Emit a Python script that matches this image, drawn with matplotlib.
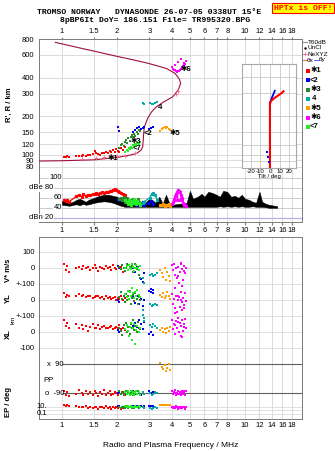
import numpy as np
import matplotlib
matplotlib.use("Agg")
import matplotlib.pyplot as plt
from matplotlib.ticker import NullLocator
from matplotlib.transforms import blended_transform_factory as blend

plt.rcParams["font.family"] = ["Liberation Sans", "DejaVu Sans"]
plt.rcParams["font.size"] = 5.5

W, H = 335, 451


def fx(px):
    return px / W


def fy(py):
    return 1 - py / H


# ---------------- data ----------------
FREQ_TICKS = [1, 1.5, 2, 3, 4, 5, 6, 7, 8, 10, 12, 14, 16, 18]
FREQ_LABELS = ["1", "1.5", "2", "3", "4", "5", "6", "7", "8", "10", "12", "14", "16", "18"]
HEIGHT_TICKS = [80, 90, 100, 120, 150, 200, 300, 400, 600, 800]

# N(h) profile (plasma frequency vs true height)
PROFILE_F = [0.75, 1.0, 1.5, 2.0, 2.35, 2.55, 2.7, 2.76, 2.78, 2.79, 2.82, 2.94, 3.09,
             3.29, 3.58, 4.03, 4.32, 4.45, 4.38, 4.14, 3.73, 3.3, 2.9, 2.45, 2.0, 1.55, 1.2, 0.92]
PROFILE_H = [89, 89.5, 91, 95, 99, 102, 108, 115, 130, 144, 165, 192, 216,
             237, 257, 283, 320, 360, 388, 432, 470, 495, 520, 550, 585, 636, 690, 753]
NEXYZ_F = [1.28, 1.53, 1.70, 1.99, 2.21, 2.50, 4.20, 4.30]
NEXYZ_H = [93, 94, 95, 97, 98, 103, 300, 312]

# trace 1 (red)
T1_F = [1.03, 1.05, 1.07, 1.09, 1.20, 1.24, 1.28, 1.31, 1.35, 1.39, 1.43, 1.47, 1.51, 1.54, 1.58,
        1.62, 1.66, 1.70, 1.74, 1.78, 1.82, 1.86, 1.90, 1.94, 1.98, 2.02, 2.06, 2.10, 2.15, 2.20]
T1_H = [96, 95, 97, 96, 97, 98, 97, 99, 98, 100, 99, 101, 107, 102, 101,
        100, 103, 102, 104, 103, 106, 104, 108, 105, 110, 107, 104, 112, 109, 114]
T1_VS = [30, -10, 15, -25, 5, 10, -5, 15, 0, 10, -10, 5, 20, 0, -15,
         10, 5, -5, 15, 0, 10, -10, 20, 5, -5, 15, 0, 10, -20, 5]
T1_YL = [45, 20, 35, 30, 25, 40, 30, 35, 20, 30, 25, 15, 20, 25, 30,
         15, 20, 10, 25, 15, 20, 10, 15, 20, 5, 15, 10, 25, 5, 15]
T1_XL = [75, 40, 60, 25, 55, 30, 45, 20, 40, 10, 35, 50, 25, 30, 45,
         20, 35, 40, 25, 30, 35, 40, 20, 30, 35, 25, 45, 20, 30, 15]
T1_POL = [-75, -100, -85, -110, -95, -70, -90, -105, -80, -95, -85, -100, -75, -90, -110,
          -85, -95, -70, -100, -90, -80, -105, -95, -85, -90, -100, -75, -95, -85, -105]
T1_EP = [25, 20, 30, 15, 12, 8, 10, 6, 14, 5, 9, 4, 11, 7, 3,
         6, 8, 5, 12, 4, 7, 3, 9, 5, 6, 4, 8, 3, 5, 7]
T1_AMP = [55, 53, 56, 52, 63, 66, 62, 67, 64, 66, 65, 68, 67, 70, 68,
          69, 71, 70, 72, 71, 73, 74, 76, 78, 75, 74, 72, 70, 68, 66]

# trace 2 (blue)
T2_F = [2.03, 2.04, 2.45, 2.52, 2.58, 2.64, 2.70, 2.76, 2.82, 2.98, 3.06, 3.14]
T2_H = [165, 152, 150, 156, 160, 163, 158, 161, 165, 158, 162, 165]
T2_VS = [15, 0, 5, -20, 10, -40, -65, -85, -30, -140, -150, -135]
T2_YL = [5, -10, 20, -15, 30, -25, 10, -35, 0, 60, 70, 45]
T2_XL = [15, 5, 40, 60, 35, 75, 50, 20, 65, -10, 5, -15]
T2_POL = [-90, -85, -80, -95, -75, -90, -100, -85, -95, -80, -90, -85]
T2_EP = [15, 12, 18, 10, 14, 16, 12, 11, 14, 16, 13, 15]
T2_AMP = [57, 55, 52, 48, 45, 50, 47, 52, 46, 49, 53, 48]

# trace 3 (dark green)
T3_F = [2.05, 2.10, 2.13, 2.17, 2.20, 2.24, 2.27, 2.30, 2.34, 2.37, 2.41, 2.45, 2.48,
        2.52, 2.56, 2.60, 2.64, 2.68]
T3_H = [112, 118, 122, 116, 126, 130, 124, 134, 128, 138, 142, 136, 146,
        140, 150, 146, 155, 152]
T3_VS = [10, -5, 20, 0, -15, 5, 25, -10, 10, 0, 15, -20, 5, 30, -5, 10, -40, -60]
T3_YL = [20, 50, 10, 30, -10, 40, 0, 25, 60, -20, 15, 35, -5, 45, 10, -25, 20, 5]
T3_XL = [30, 10, -15, 45, 20, 60, 5, 35, -10, 50, 25, 80, 15, 40, 0, 65, 30, 20]
T3_POL = [-80, -95, -85, -100, -90, -75, -95, -85, -105, -90, -80, -100, -90,
          -85, -95, -75, -90, -100]
T3_EP = [8, 5, 10, 6, 4, 12, 7, 5, 9, 6, 4, 8, 5, 10, 6, 7, 4, 9]
T3_AMP = [58, 60, 55, 62, 52, 57, 60, 54, 50, 56, 53, 58, 55, 51, 54, 57, 52, 50]

# trace 4 (cyan)
T4_F = [2.76, 2.80, 3.02, 3.09, 3.16, 3.24, 3.32]
T4_H = [252, 250, 255, 250, 248, 252, 258]
T4_VS = [-60, -90, -40, -35, -45, -40, -30]
T4_YL = [-60, -110, -25, -35, -30, -20, -30]
T4_XL = [110, 70, 45, 35, 50, 40, 30]
T4_POL = [-85, -95, -90, -100, -95, -85, -90]
T4_EP = [6, 4, 5, 3, 4, 6, 5]
T4_AMP = [50, 52, 60, 68, 70, 66, 55]

# trace 5 (orange)
T5_F = [3.45, 3.52, 3.58, 3.64, 3.70, 3.76, 3.82, 3.88]
T5_H = [152, 158, 160, 163, 161, 165, 158, 155]
T5_VS = [-10, -30, -55, 0, -70, -20, -45, -80]
T5_YL = [35, 20, 45, 15, 30, 50, 25, 10]
T5_XL = [15, 30, 5, 20, -5, 25, 10, 35]
T5_POL = [100, 75, 60, 85, 50, 70, 90, 55]
T5_EP = [30, 28, 32, 30, 29, 31, 30, 28]
T5_AMP = [46, 45, 47, 44, 46, 45, 48, 44]

# trace 6 (magenta)
T6_F = [4.00, 4.05, 4.10, 4.15, 4.20, 4.25, 4.30, 4.35, 4.40, 4.45,
        4.50, 4.55, 4.60, 4.65, 4.70, 4.75, 4.12, 4.28, 4.48, 4.62]
T6_H = [480, 470, 462, 455, 450, 445, 448, 452, 458, 465,
        472, 480, 490, 500, 510, 540, 500, 530, 560, 520]
T6_VS = [20, -10, 30, -40, 0, -60, 10, -90, -20, 25, -110, -5, -70, 15, -30, 5, -120, -50, 35, -15]
T6_YL = [40, -20, 10, -50, 30, -70, 0, 20, -40, 50, -10, -60, 15, -30, 45, -5, -80, 25, 5, -45]
T6_XL = [80, 20, 50, -10, 70, 30, 90, 0, 60, 40, -30, 75, 10, 55, 85, 25, 45, 65, -20, 35]
T6_POL = [-80, -95, -85, -70, -100, -90, -75, -95, -85, -105,
          -90, -80, -95, -85, -100, -75, -90, -95, -85, -80]
T6_EP = [8, 5, 10, 4, 12, 6, 3, 9, 5, 7, 4, 11, 6, 8, 3, 10, 5, 7, 4, 9]
T6_AMP = [48, 52, 58, 63, 68, 72, 75, 74, 72, 66, 60, 55, 50, 47, 45, 44, 55, 55, 55, 45]

# trace 7 (light green)
T7_F = [2.22, 2.26, 2.29, 2.32, 2.35, 2.38, 2.41, 2.44, 2.47, 2.50, 2.54, 2.58, 2.62, 2.66]
T7_H = [104, 108, 106, 112, 110, 115, 113, 118, 116, 121, 119, 124, 122, 126]
T7_VS = [0, 15, -10, 20, 5, -5, 25, 10, -15, 0, 20, 5, -10, 15]
T7_YL = [40, 20, 60, 10, 50, 30, 75, 45, 15, 55, 25, 65, 35, 20]
T7_XL = [20, 45, 10, -20, 35, 60, -45, 25, 50, -75, 15, 40, 5, 30]
T7_POL = [-85, -95, -75, -90, -100, -80, -95, -85, -105, -90, -80, -95, -85, -100]
T7_EP = [12, 8, 15, 10, 6, 14, 9, 11, 7, 13, 8, 10, 12, 9]
T7_AMP = [56, 52, 48, 55, 50, 46, 53, 49, 58, 51, 47, 54, 50, 46]

TRACE_COLORS = ["#ff0000", "#0000ee", "#2a8a2a", "#00a8a8", "#ffa000", "#ff00ff", "#22ee22"]
TRACE_NAMES = ["✱1", "<2", "✱3", " 4", "✱5", "✱6", "<7"]
# tag position (freq, height) of each trace label
TAG_F = [1.78, 2.78, 2.38, 3.28, 3.85, 4.45, 2.42]
TAG_H = [94, 146, 127, 232, 146, 458, 111]

# receiver amplitude (unclassified), dB
AMP_F = [1.0, 1.05, 1.1, 1.15, 1.2, 1.25, 1.3, 1.35, 1.4, 1.5, 1.6, 1.7, 1.8, 1.9, 2.0,
         2.1, 2.2, 2.3, 2.4, 2.55, 2.7, 2.85, 3.0, 3.1, 3.25, 3.4, 3.55, 3.7, 3.85, 4.0,
         4.8, 5.0, 5.2, 5.5, 5.8, 6.0, 6.3, 6.6, 7.0, 7.3, 7.6, 8.0, 8.4, 8.8, 9.2,
         9.6, 10.0, 10.5, 11.0, 11.5, 12.0, 12.4, 13.0, 13.5, 14.0, 14.5, 15.0]
AMP_LO = [46, 45, 44, 46, 47, 45, 48, 46, 47, 50, 52, 53, 52, 50, 47,
          44, 42, 42, 42, 42, 42, 42, 42, 42, 42, 42, 42, 42, 42, 42,
          42, 42, 42, 42, 42, 42, 42, 42, 42, 43, 42, 43, 42, 43, 42,
          43, 42, 42, 43, 42, 42, 42, 41, 40, 40, 40, 40]
AMP_HI = [54, 52, 50, 52, 56, 58, 55, 52, 56, 60, 64, 66, 66, 64, 62,
          58, 52, 50, 48, 50, 48, 50, 58, 56, 50, 62, 48, 66, 50, 46,
          50, 74, 58, 62, 68, 62, 72, 70, 66, 62, 74, 72, 62, 64, 60,
          66, 58, 56, 52, 50, 72, 52, 48, 46, 45, 44, 43]

# tilt inset
TILT_RED_T = [0, 0, 0, 0, 0, 1, 3, 5, 8, 11, 13, 14]
TILT_RED_H = [80, 100, 150, 200, 250, 262, 270, 278, 288, 298, 306, 312]
TILT_BLUE_T = [0, 1, 2, 3, 4, 5]
TILT_BLUE_H = [255, 265, 278, 290, 302, 315]
TILT_BLUE_LOW_T = [-3, -2, -1]
TILT_BLUE_LOW_H = [106, 96, 88]

# ---------------- layout ----------------
F_MIN, F_MAX = 0.7486, 20.49
GRID = "#d6d6d6"
FRAME = "#7a7a7a"
PROFILE_COLOR = "#a0103c"

fig = plt.figure(figsize=(W / 100, H / 100), dpi=100)
ax_h = fig.add_axes([fx(39), fy(171), fx(263), 132 / H])
ax_db = fig.add_axes([fx(39), fy(222), fx(263), 51 / H])
ax_low = fig.add_axes([fx(39), fy(419), fx(263), 182 / H])
ax_t = fig.add_axes([fx(242), fy(168), fx(54), 104 / H])

for ax in (ax_h, ax_db, ax_low):
    ax.set_xscale("log")
    ax.set_xlim(F_MIN, F_MAX)
    ax.set_xticks(FREQ_TICKS, FREQ_LABELS)
    ax.xaxis.set_minor_locator(NullLocator())
    ax.grid(True, axis="x", color=GRID, lw=0.6)
    ax.set_axisbelow(True)
    for s in ax.spines.values():
        s.set_color(FRAME)
        s.set_linewidth(0.7)
    ax.tick_params(colors=FRAME, labelcolor="black", labelsize=5.5)

# --- height panel ---
ax_h.set_yscale("log")
ax_h.set_ylim(74.4, 800)
ax_h.set_yticks(HEIGHT_TICKS, [str(t) for t in HEIGHT_TICKS])
ax_h.yaxis.set_minor_locator(NullLocator())
ax_h.grid(True, axis="y", color=GRID, lw=0.6)
ax_h.tick_params(axis="x", top=True, bottom=False, labeltop=True, labelbottom=False,
                 direction="out", length=1.8, pad=1)
ax_h.tick_params(axis="y", length=0, pad=3.5)
ax_h.set_ylabel("R', R / km", fontsize=5.5, labelpad=6, fontweight="bold")
ax_h.spines["bottom"].set_visible(False)

ax_h.plot(PROFILE_F, PROFILE_H, color=PROFILE_COLOR, lw=0.8, zorder=3)
ax_h.scatter(NEXYZ_F, NEXYZ_H, marker="+", s=8, color="#ff6a8a", lw=0.6, zorder=4)

traces = [
    (T1_F, T1_H, T1_VS, T1_YL, T1_XL, T1_POL, T1_EP, T1_AMP),
    (T2_F, T2_H, T2_VS, T2_YL, T2_XL, T2_POL, T2_EP, T2_AMP),
    (T3_F, T3_H, T3_VS, T3_YL, T3_XL, T3_POL, T3_EP, T3_AMP),
    (T4_F, T4_H, T4_VS, T4_YL, T4_XL, T4_POL, T4_EP, T4_AMP),
    (T5_F, T5_H, T5_VS, T5_YL, T5_XL, T5_POL, T5_EP, T5_AMP),
    (T6_F, T6_H, T6_VS, T6_YL, T6_XL, T6_POL, T6_EP, T6_AMP),
    (T7_F, T7_H, T7_VS, T7_YL, T7_XL, T7_POL, T7_EP, T7_AMP),
]

# lower panel vertical offsets (layout)
VS_OFF, YL_OFF, XL_OFF = 400, 200, 0
POL_OFF = -290
EP_OFF, EP_SCALE = -487, 22
SQ = dict(marker="s", s=4.2, linewidths=0, zorder=3)

for (f, h, vs, yl, xl, pol, ep, amp), c in zip(traces, TRACE_COLORS):
    f = np.array(f)
    ax_h.scatter(f, h, color=c, **SQ)
    order = np.argsort(f)
    ax_db.plot(f[order], np.array(amp)[order], color=c, lw=0.9, marker="s", ms=1.3, zorder=3)
    ax_low.scatter(f, np.array(vs) + VS_OFF, color=c, **SQ)
    ax_low.scatter(f, np.array(yl) + YL_OFF, color=c, **SQ)
    ax_low.scatter(f, np.array(xl) + XL_OFF, color=c, **SQ)
    ax_low.scatter(f, np.array(pol) + POL_OFF, color=c, **SQ)
    ax_low.scatter(f, EP_OFF + EP_SCALE * np.log10(ep), color=c, **SQ)

for name, tf, th in zip(TRACE_NAMES, TAG_F, TAG_H):
    ax_h.text(tf, th, name, fontsize=5.5, fontweight="bold", ha="left", va="center", zorder=5)

# --- tilt inset ---
ax_t.set_yscale("log")
ax_t.set_ylim(79.3, 508)
ax_t.set_xlim(-29, 27)
ax_t.set_xticks([-20, -10, 0, 10, 20], ["-20", "-10", "0", "10", "20"])
ax_t.set_yticks([t for t in HEIGHT_TICKS if t < 508])
ax_t.yaxis.set_minor_locator(NullLocator())
ax_t.tick_params(axis="y", left=False, labelleft=False)
ax_t.tick_params(axis="x", length=0, pad=1, labelsize=4.3)
ax_t.grid(True, color="#c8c8c8", lw=0.6)
ax_t.set_axisbelow(True)
for s in ax_t.spines.values():
    s.set_color("#a8a8a8")
    s.set_linewidth(0.8)
ax_t.set_xlabel("Tilt / deg", fontsize=4.3, labelpad=0)
ax_t.plot(TILT_BLUE_T, TILT_BLUE_H, color="#0000ee", lw=1.3, zorder=3)
ax_t.plot(TILT_RED_T, TILT_RED_H, color="#ff0000", lw=1.5, zorder=4)
ax_t.scatter(TILT_BLUE_LOW_T, TILT_BLUE_LOW_H, color="#0000ee", marker="s", s=4, linewidths=0, zorder=5)

# --- amplitude panel ---
ax_db.set_ylim(11.3, 114)
ax_db.set_yticks([])
ax_db.spines["top"].set_visible(False)
ax_db.tick_params(axis="x", top=False, bottom=True, direction="out", length=1.8, pad=1.5)
for v in (40, 60, 80, 100):
    ax_db.axhline(v, color="#c4c4c4", lw=0.6, zorder=1)
ax_db.axhline(20, color="#b4b4e6", lw=0.9, zorder=1)
ax_db.fill_between(AMP_F, AMP_LO, AMP_HI, color="black", lw=0.4, zorder=2)
tr = blend(ax_db.transAxes, ax_db.transData)
for v, lab, xr in ((100, "100", 0.087), (80, "dBe 80", 0.055), (60, "60", 0.087),
                   (40, "40", 0.087), (20, "dBn 20", 0.055)):
    ax_db.text(xr, v, lab, transform=tr, ha="right", va="center", fontsize=5.5,
               bbox=dict(facecolor="white", edgecolor="none", pad=0.3), zorder=4)

# --- lower panel ---
ax_low.set_ylim(-542, 596)
ax_low.set_yticks([])
ax_low.tick_params(axis="x", top=False, bottom=True, length=0, pad=2.5)
for u in (500, 400, 300, 200, 100, 0, -100, -465, -487, -509):
    ax_low.axhline(u, color="#dcdcdc", lw=0.6, zorder=1)
ax_low.hlines([POL_OFF + 90, POL_OFF - 90], FREQ_TICKS[0], F_MAX, color="#606060", lw=0.8, zorder=2)
trl = blend(ax_low.transAxes, ax_low.transData)
for u, lab in ((500, "100"), (400, "0"), (300, "+-100"), (200, "0"), (100, "+-100"),
               (0, "0"), (-100, "-100")):
    ax_low.text(-0.015, u, lab, transform=trl, ha="right", va="center", fontsize=5.5)
ax_low.text(0.03, POL_OFF + 90, "x  90", transform=trl, ha="left", va="center", fontsize=5.5)
ax_low.text(0.015, POL_OFF - 10, "PP", transform=trl, ha="left", va="center", fontsize=5.5)
ax_low.text(0.022, POL_OFF - 90, "o  -90", transform=trl, ha="left", va="center", fontsize=5.5)
ax_low.text(0.03, EP_OFF + EP_SCALE, "10.", transform=trl, ha="right", va="center", fontsize=5.5)
ax_low.text(0.03, EP_OFF - EP_SCALE, "0.1", transform=trl, ha="right", va="center", fontsize=5.5)

# rotated side labels
for py, lab, px, fs in ((270, "V* m/s", 8, 5.5), (298, "YL", 8, 5.5), (320, "km", 13, 4.5),
                        (334, "XL", 8, 5.5), (402, "EP / deg", 8, 5.5)):
    fig.text(fx(px), fy(py), lab, rotation=90, ha="center", va="center", fontsize=fs,
             fontweight="normal" if lab == "km" else "bold")

ax_low.set_xlabel("Radio and Plasma Frequency / MHz", fontsize=6, labelpad=9)

# --- header ---
mono = ["Liberation Mono", "DejaVu Sans Mono"]
fig.text(fx(149), fy(12), "TROMSO NORWAY   DYNASONDE 26-07-05 0338UT 15°E",
         ha="center", va="center", family=mono, fontsize=5.9, fontweight="bold")
fig.text(fx(155.5), fy(20), "8pBP6It DoY= 186.151 File= TR995320.BPG",
         ha="center", va="center", family=mono, fontsize=5.9, fontweight="bold")
fig.text(fx(303), fy(8), "HPTx is OFF!", ha="center", va="center", family=mono,
         fontsize=5.9, fontweight="bold", color="#ff0000",
         bbox=dict(facecolor="#ffff00", edgecolor="#ff0000", lw=0.8, pad=1.2))

# --- legend ---
ax_leg = fig.add_axes([fx(302), fy(135), fx(33), 100 / H])
ax_leg.set_xlim(302, 335)
ax_leg.set_ylim(135, 35)
ax_leg.axis("off")
LEG_FS = 4.6
ax_leg.plot([302.5, 306.5], [42.3, 42.3], color="#909090", lw=0.8)
ax_leg.text(308, 42.3, "T60dB", va="center", fontsize=LEG_FS)
ax_leg.plot([304.5], [47.8], color="black", marker=".", ms=1.5)
ax_leg.text(308, 47.8, "UnCl", va="center", fontsize=LEG_FS)
ax_leg.plot([302.5, 306.5], [54, 54], color="#ff6a8a", lw=0.6)
ax_leg.plot([304.5], [54], color="#ff6a8a", marker="+", ms=3, mew=0.6)
ax_leg.text(308, 54, "NeXYZ", va="center", fontsize=LEG_FS)
ax_leg.plot([302.5, 306.5], [60, 60], color="#ff4040", lw=0.6)
ax_leg.text(307, 60, "θx", va="center", fontsize=LEG_FS)
ax_leg.plot([314, 318.5], [60, 60], color="#4040ff", lw=0.6)
ax_leg.text(319, 60, "θy", va="center", fontsize=LEG_FS)
for i, (name, c) in enumerate(zip(TRACE_NAMES, TRACE_COLORS)):
    yy = 71 + i * 9.3
    ax_leg.scatter([307.7], [yy], color=c, marker="s", s=5, linewidths=0)
    ax_leg.text(310, yy, name, va="center", fontsize=5.5, fontweight="bold")

fig.savefig("out.png", dpi=100)
